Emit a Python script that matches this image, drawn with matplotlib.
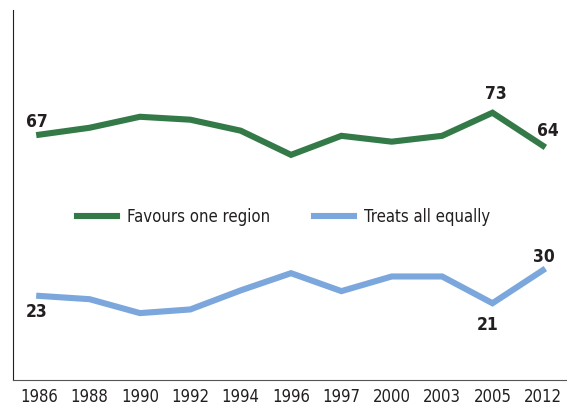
import matplotlib.pyplot as plt

years = ["1986", "1988", "1990", "1992", "1994", "1996", "1997", "2000", "2003", "2005", "2012"]
favours_one = [67, 68.9, 71.9, 71.1, 68.1, 61.5, 66.7, 65.1, 66.7, 73, 64]
treats_all = [23, 22.1, 18.3, 19.3, 24.5, 29.2, 24.3, 28.3, 28.3, 21, 30]

green = "#347a48"
blue = "#7ba7dc"
ink = "#231f20"

fig = plt.figure(figsize=(5.67, 4.07), dpi=100)
ax = fig.add_axes([0.023, 0.066, 0.977, 0.909])

x = list(range(len(years)))
ax.plot(x, favours_one, color=green, lw=4.4, solid_joinstyle="miter", label="Favours one region")
ax.plot(x, treats_all, color=blue, lw=4.4, solid_joinstyle="miter", label="Treats all equally")

ax.set_xlim(-0.52, 10.48)
ax.set_ylim(0, 101)
ax.set_yticks([])
ax.set_xticks(x)
ax.set_xticklabels(years, family="DejaVu Sans", fontstretch="condensed", fontsize=12, color=ink)
ax.tick_params(axis="x", length=0, pad=6)

for s in ["top", "right"]:
    ax.spines[s].set_visible(False)
ax.spines["left"].set_color(ink)
ax.spines["bottom"].set_color("#555555")

# end-point labels: (series, index, offset in pixels)
labels = [
    (favours_one, 0, (-2, 13)),
    (favours_one, 9, (3, 18.5)),
    (favours_one, 10, (5, 14.5)),
    (treats_all, 0, (-3, -16.5)),
    (treats_all, 9, (-5, -22)),
    (treats_all, 10, (1.5, 13.5)),
]
for series, i, off in labels:
    ax.annotate(str(round(series[i])), (i, series[i]), xytext=off, textcoords="offset pixels",
                ha="center", va="center", fontsize=12.5, fontweight="bold",
                fontstretch="condensed", color=ink)

leg = ax.legend(loc="center left", bbox_to_anchor=(0.1035, 0.442), borderaxespad=0,
                ncol=2, frameon=False,
                handlelength=2.4, handletextpad=0.6, columnspacing=2.6,
                prop={"family": "DejaVu Sans", "stretch": "condensed", "size": 12})
for t in leg.get_texts():
    t.set_color(ink)

fig.savefig("out.png", dpi=100)
